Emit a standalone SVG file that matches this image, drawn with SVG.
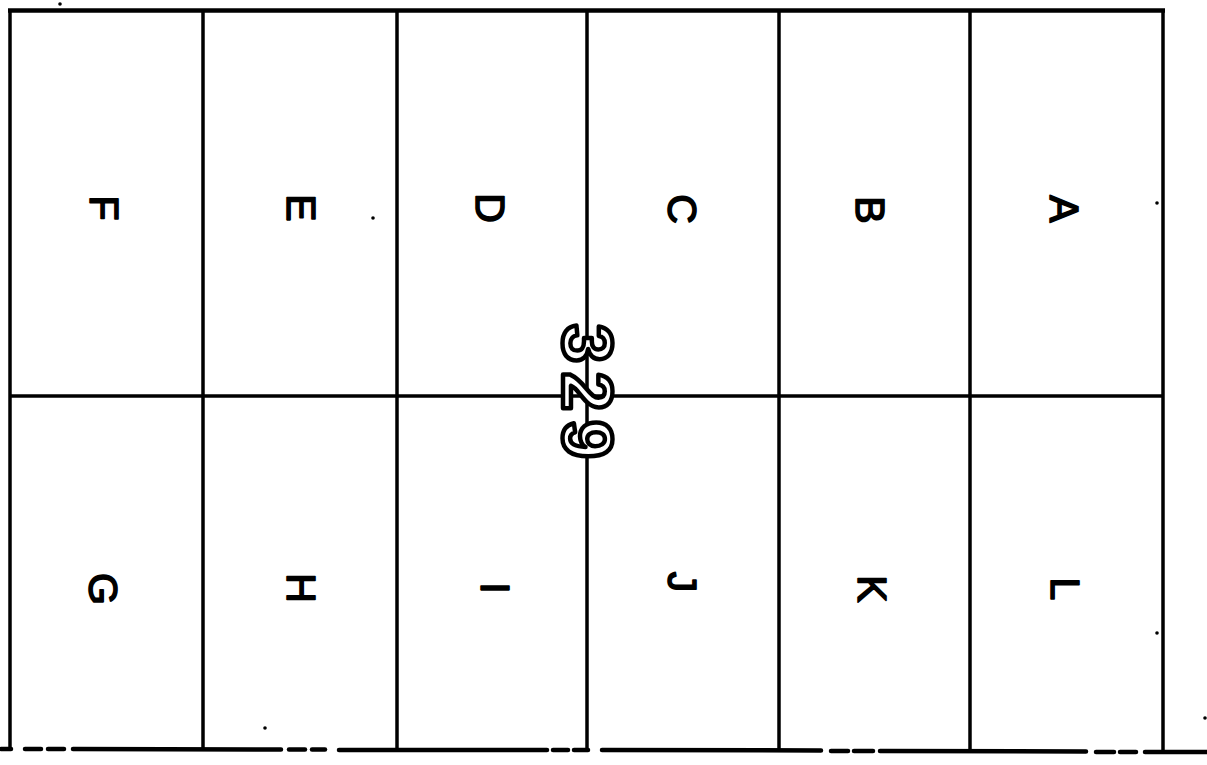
<svg xmlns="http://www.w3.org/2000/svg" width="1207" height="765" viewBox="0 0 1207 765">
<style>
.ln{stroke:#000;stroke-width:3.5;fill:none;stroke-linecap:butt}
.lt{font-family:"Liberation Sans",Arial,sans-serif;font-size:41px;fill:#000;stroke:#000;stroke-width:1.6;stroke-linejoin:round;text-anchor:middle}
.num{font-family:"Liberation Sans",Arial,sans-serif;font-size:70px;font-weight:bold;fill:#fff;stroke:#000;stroke-width:4.5;stroke-linejoin:round;text-anchor:middle;letter-spacing:9px}
.sp{fill:#000}
</style>
<rect width="1207" height="765" fill="#fff"/>
<g id="connectors">
<line class="ln" x1="8" y1="10.5" x2="1165" y2="10.5" style="stroke-width:4.5"/>
<line class="ln" x1="10" y1="396" x2="1163" y2="396"/>
<line class="ln" x1="10" y1="9" x2="10" y2="750"/>
<line class="ln" x1="203" y1="9" x2="203" y2="750"/>
<line class="ln" x1="397" y1="9" x2="397" y2="750"/>
<line class="ln" x1="587" y1="9" x2="587" y2="751"/>
<line class="ln" x1="779" y1="9" x2="779" y2="751"/>
<line class="ln" x1="970" y1="9" x2="970" y2="752"/>
<line class="ln" x1="1163" y1="9" x2="1163" y2="752"/>
<g id="bottom" stroke="#000" stroke-width="4.5" stroke-linecap="round">
<line x1="1" y1="749" x2="11" y2="749"/>
<line x1="25" y1="749" x2="41" y2="749"/>
<line x1="48" y1="749" x2="64" y2="749"/>
<line x1="73" y1="749" x2="281" y2="749.5"/>
<line x1="289" y1="749.5" x2="305" y2="749.5"/>
<line x1="312" y1="749.5" x2="325" y2="749.5"/>
<line x1="339" y1="750" x2="547" y2="750"/>
<line x1="553" y1="750" x2="568" y2="750"/>
<line x1="574" y1="750" x2="588" y2="750"/>
<line x1="602" y1="750" x2="821" y2="750.5"/>
<line x1="831" y1="751" x2="848" y2="751"/>
<line x1="854" y1="751" x2="873" y2="751"/>
<line x1="880" y1="751" x2="1086" y2="751.5"/>
<line x1="1096" y1="752" x2="1114" y2="752"/>
<line x1="1120" y1="752" x2="1136" y2="752"/>
<line x1="1145" y1="752" x2="1207" y2="752"/>
</g>
</g>
<g id="cell-F"><text class="lt" transform="translate(105,208) rotate(90)" y="15">F</text></g>
<g id="cell-E"><text class="lt" transform="translate(302,208) rotate(90)" y="15">E</text></g>
<g id="cell-D"><text class="lt" transform="translate(491,208) rotate(90)" y="15">D</text></g>
<g id="cell-C"><text class="lt" transform="translate(683,209) rotate(90)" y="15">C</text></g>
<g id="cell-B"><text class="lt" transform="translate(871,210) rotate(90)" y="15">B</text></g>
<g id="cell-A"><text class="lt" transform="translate(1065,209) rotate(90)" y="15">A</text></g>
<g id="cell-G"><text class="lt" transform="translate(104,589) rotate(90)" y="15">G</text></g>
<g id="cell-H"><text class="lt" transform="translate(302,588) rotate(90)" y="15">H</text></g>
<g id="cell-I"><text class="lt" transform="translate(496,588) rotate(90)" y="15">I</text></g>
<g id="cell-J"><text class="lt" transform="translate(683,582) rotate(90)" y="15">J</text></g>
<g id="cell-K"><text class="lt" transform="translate(873,589) rotate(90)" y="15">K</text></g>
<g id="cell-L"><text class="lt" transform="translate(1066,589) rotate(90)" y="15">L</text></g>
<g id="label-329"><text class="num" transform="translate(588,396) rotate(90)" y="25">329</text></g>
<g id="specks">
<circle class="sp" cx="373" cy="218" r="1.8"/>
<circle class="sp" cx="1157" cy="203" r="1.8"/>
<circle class="sp" cx="265" cy="728" r="1.8"/>
<circle class="sp" cx="1157" cy="633" r="1.8"/>
<circle class="sp" cx="1205" cy="718" r="1.8"/>
<circle class="sp" cx="60" cy="4" r="1.8"/>
</g>
</svg>
